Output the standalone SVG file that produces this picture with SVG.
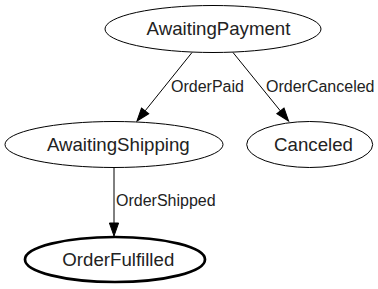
<svg xmlns="http://www.w3.org/2000/svg" width="378" height="289" viewBox="0 0 378 289">
  <style>
    .node ellipse { fill: none; stroke: #000; stroke-width: 1; }
    .node.final ellipse { stroke-width: 2.7; }
    .node text { font-family: "Liberation Sans", Arial, sans-serif; font-size: 18.67px; fill: #222; text-anchor: middle; }
    .edge { fill: none; stroke: #000; stroke-width: 1; }
    .elabel { font-family: "Liberation Sans", Arial, sans-serif; font-size: 16px; fill: #222; }
  </style>
  <defs>
    <marker id="arrow" markerUnits="userSpaceOnUse" viewBox="0 -5 14 10" markerWidth="14" markerHeight="10" refX="0" refY="0" orient="auto" overflow="visible">
      <path d="M0,-4.6 L13,0 L0,4.6 Z" fill="#000" stroke="#000" stroke-width="1"/>
    </marker>
  </defs>
  <rect width="378" height="289" fill="#fff"/>

  <g id="edges">
    <path class="edge" d="M192,52.5 L145.1,110.9" marker-end="url(#arrow)"/>
    <text class="elabel" x="171" y="92">OrderPaid</text>
    <path class="edge" d="M233,52.5 L280.4,110.9" marker-end="url(#arrow)"/>
    <text class="elabel" x="266" y="92">OrderCanceled</text>
    <path class="edge" d="M114,167.5 L114,223" marker-end="url(#arrow)"/>
    <text class="elabel" x="116" y="206">OrderShipped</text>
  </g>

  <g id="AwaitingPayment" class="node">
    <ellipse cx="213" cy="29" rx="108" ry="23.5"/>
    <text x="218.5" y="35">AwaitingPayment</text>
  </g>
  <g id="AwaitingShipping" class="node">
    <ellipse cx="114" cy="144.5" rx="109" ry="23"/>
    <text x="118.3" y="150.5">AwaitingShipping</text>
  </g>
  <g id="Canceled" class="node">
    <ellipse cx="309.7" cy="144.5" rx="63" ry="23"/>
    <text x="313.5" y="150.5">Canceled</text>
  </g>
  <g id="OrderFulfilled" class="node final">
    <ellipse cx="115" cy="259.5" rx="90" ry="22.5"/>
    <text x="118.3" y="265.5">OrderFulfilled</text>
  </g>
</svg>
